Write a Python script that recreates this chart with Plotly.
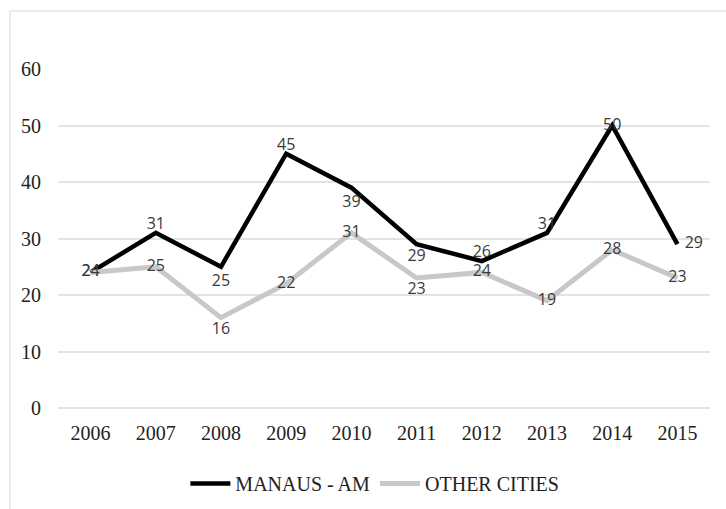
import plotly.graph_objects as go

years = ["2006", "2007", "2008", "2009", "2010", "2011", "2012", "2013", "2014", "2015"]
manaus = [24, 31, 25, 45, 39, 29, 26, 31, 50, 29]
others = [24, 25, 16, 22, 31, 23, 24, 19, 28, 23]
y_ticks = [0, 10, 20, 30, 40, 50, 60]

manaus_pos = ["middle center", "top center", "bottom center", "top center", "bottom center",
              "bottom center", "top center", "top center", "middle center", "middle right"]
others_pos = ["middle center", "middle center", "bottom center", "middle center", "middle center",
              "bottom center", "middle center", "middle center", "middle center", "middle center"]
# invisible marker sizes that set the label offset from each point
manaus_gap = [0, 0, 10, 0, 10, 6, 0, 0, 0, 10]
others_gap = [0, 0, 6, 0, 0, 4, 0, 0, 0, 0]

label_font = dict(family="Open Sans, Liberation Sans, sans-serif", size=16, color="#3a3a3a")
serif = dict(family="Liberation Serif, Times New Roman, serif", size=20, color="#222222")

fig = go.Figure()
fig.add_trace(go.Scatter(
    x=years, y=manaus, name="MANAUS - AM", mode="lines+markers+text",
    line=dict(color="#000000", width=4.5),
    marker=dict(size=manaus_gap, color="rgba(0,0,0,0)", line=dict(width=0, color="rgba(0,0,0,0)")),
    text=[str(v) for v in manaus], textposition=manaus_pos, textfont=label_font,
    cliponaxis=False,
))
fig.add_trace(go.Scatter(
    x=years, y=others, name="OTHER CITIES", mode="lines+markers+text",
    line=dict(color="#c8c8c8", width=5),
    marker=dict(size=others_gap, color="rgba(0,0,0,0)", line=dict(width=0, color="rgba(0,0,0,0)")),
    text=[str(v) for v in others], textposition=others_pos, textfont=label_font,
    cliponaxis=False,
))

W, H = 726, 509
L, R, T, B = 58, 16, 69, 101
pw, ph = W - L - R, H - T - B

# outer light border (chart frame)
fig.add_shape(type="rect", xref="paper", yref="paper",
              x0=(10 - L) / pw, x1=(W + 20 - L) / pw,
              y0=(H - B - (H + 20)) / ph, y1=(H - B - 11) / ph,
              line=dict(color="#e6e6e6", width=1.5), layer="below")

fig.update_layout(
    width=W, height=H,
    margin=dict(l=L, r=R, t=T, b=B, autoexpand=False),
    paper_bgcolor="white", plot_bgcolor="white",
    showlegend=True,
    legend=dict(orientation="h", x=0.486, xanchor="center",
                yref="container", y=(H - 464) / H, yanchor="top",
                font=serif, itemwidth=40, traceorder="normal"),
    xaxis=dict(type="category", range=[-0.5, 9.5], showgrid=False, showline=False,
               ticks="outside", ticklen=7, tickcolor="rgba(0,0,0,0)",
               tickfont=serif, fixedrange=True),
    yaxis=dict(range=[0, 60], tickvals=y_ticks, showgrid=True, gridcolor="#e3e3e3", gridwidth=1.5,
               zeroline=True, zerolinecolor="#e3e3e3", zerolinewidth=1.5, showline=False,
               ticks="outside", ticklen=12, tickcolor="rgba(0,0,0,0)",
               tickfont=serif, fixedrange=True),
)

fig.write_html("out.html")
